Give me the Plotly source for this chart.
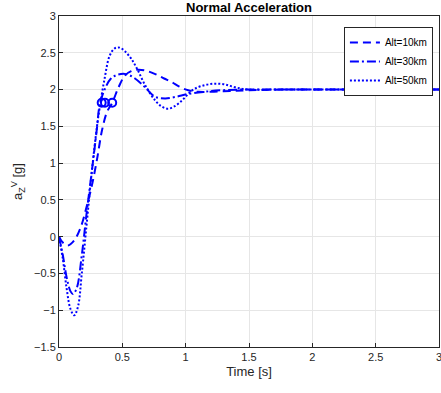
import plotly.graph_objects as go

# Alt=10km (dashed)
t10 = [0.0, 0.03, 0.07, 0.12, 0.17, 0.22, 0.26, 0.30, 0.34, 0.38, 0.42, 0.47, 0.52, 0.57, 0.62, 0.68, 0.76, 0.83, 0.89, 0.95, 1.02, 1.1, 1.2, 1.35, 1.5, 1.8, 2.2, 2.6, 3.0]
a10 = [0.0, -0.08, -0.12, -0.05, 0.12, 0.42, 0.70, 1.05, 1.45, 1.70, 1.82, 2.03, 2.19, 2.25, 2.27, 2.26, 2.21, 2.15, 2.10, 2.04, 1.99, 1.97, 1.97, 1.98, 1.99, 2.0, 2.0, 2.0, 2.0]

# Alt=30km (dash-dot)
t30 = [0.0, 0.03, 0.06, 0.09, 0.11, 0.14, 0.18, 0.22, 0.26, 0.30, 0.32, 0.36, 0.41, 0.46, 0.53, 0.60, 0.68, 0.76, 0.84, 0.92, 1.02, 1.15, 1.28, 1.45, 1.7, 2.0, 2.5, 3.0]
a30 = [0.0, -0.25, -0.55, -0.74, -0.78, -0.70, -0.25, 0.35, 0.90, 1.48, 1.78, 2.00, 2.15, 2.20, 2.21, 2.15, 2.03, 1.90, 1.88, 1.90, 1.94, 1.97, 1.99, 2.0, 2.0, 2.0, 2.0, 2.0]

# Alt=50km (dotted)
t50 = [0.0, 0.03, 0.06, 0.09, 0.12, 0.15, 0.18, 0.22, 0.26, 0.30, 0.32, 0.36, 0.40, 0.44, 0.48, 0.52, 0.57, 0.62, 0.68, 0.76, 0.81, 0.86, 0.91, 0.97, 1.02, 1.07, 1.15, 1.23, 1.31, 1.39, 1.5, 1.7, 2.0, 2.5, 3.0]
a50 = [0.0, -0.3, -0.7, -0.98, -1.07, -0.95, -0.5, 0.2, 0.90, 1.50, 1.74, 2.15, 2.46, 2.56, 2.57, 2.52, 2.42, 2.27, 2.06, 1.85, 1.77, 1.74, 1.77, 1.85, 1.94, 2.01, 2.06, 2.08, 2.07, 2.03, 2.0, 2.0, 2.0, 2.0, 2.0]

# marker points
mark_t = [0.42, 0.363, 0.337]
mark_a = [1.82, 1.82, 1.82]

names = ["Alt=10km", "Alt=30km", "Alt=50km"]
dashes = ["8px,5px", "9px,3px,2px,3px", "2px,2px"]

fig = go.Figure()
for t, a, n, d in zip([t10, t30, t50], [a10, a30, a50], names, dashes):
    fig.add_trace(go.Scatter(x=t, y=a, mode="lines", name=n, line_shape="spline",
                             line=dict(color="#0000ff", width=2, dash=d)))
fig.add_trace(go.Scatter(x=mark_t, y=mark_a, mode="markers", showlegend=False,
                         marker=dict(symbol="circle-open", size=8, color="#0000ff",
                                     line=dict(width=2, color="#0000ff"))))

fig.update_layout(
    width=441, height=393,
    margin=dict(l=59, r=2, t=16, b=46),
    paper_bgcolor="white", plot_bgcolor="white",
    font=dict(family="Liberation Sans, Arial, sans-serif", size=11, color="#262626"),
    title=dict(text="<b>Normal Acceleration</b>", x=0.5, xanchor="center",
               xref="paper", y=0.993, yanchor="top", font=dict(size=13, color="black")),
    legend=dict(x=0.984, y=0.967, xanchor="right", yanchor="top",
                bgcolor="white", bordercolor="#262626", borderwidth=1,
                font=dict(size=10, color="black"), tracegroupgap=0),
    showlegend=True,
)
fig.update_xaxes(range=[0, 3], dtick=0.5, showgrid=True, gridcolor="#e6e6e6",
                 showline=True, linecolor="#262626", linewidth=1, mirror=True,
                 ticks="inside", ticklen=4, tickcolor="#262626", zeroline=False,
                 ticklabeloverflow="allow", automargin=False,
                 title=dict(text="Time [s]", standoff=4))
fig.update_yaxes(range=[-1.5, 3], dtick=0.5, showgrid=True, gridcolor="#e6e6e6",
                 showline=True, linecolor="#262626", linewidth=1, mirror=True,
                 ticks="inside", ticklen=4, tickcolor="#262626", zeroline=False,
                 ticklabeloverflow="allow", automargin=False,
                 title=dict(text="a<sub>Z</sub><sup>V</sup> [g]", standoff=8))

fig.write_html("out.html")
